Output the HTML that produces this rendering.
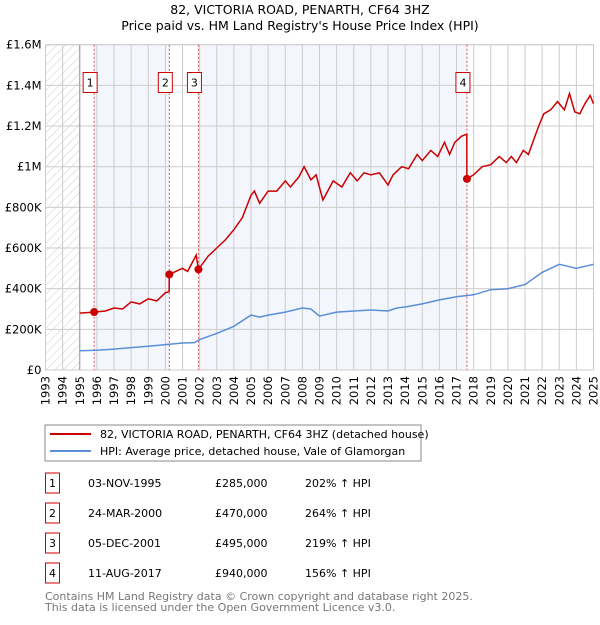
<!DOCTYPE html>
<html><head><meta charset="utf-8"><style>
body{margin:0;background:#fff;font-family:"Liberation Sans","DejaVu Sans",sans-serif}
svg text{font-family:"DejaVu Sans","Liberation Sans",sans-serif}
</style></head><body>
<svg id="c" width="600" height="620" xmlns="http://www.w3.org/2000/svg">
<defs><pattern id="hatch" width="6" height="6" patternUnits="userSpaceOnUse" patternTransform="rotate(45)"><line x1="0" y1="0" x2="0" y2="6" stroke="#ccc" stroke-width="1"/></pattern></defs>
<text x="300" y="14" text-anchor="middle" font-size="12.5">82, VICTORIA ROAD, PENARTH, CF64 3HZ</text>
<text x="300" y="30" text-anchor="middle" font-size="12.5">Price paid vs. HM Land Registry's House Price Index (HPI)</text>
<g id="plot"></g>
<rect x="45" y="425" width="376" height="36" fill="#fff" stroke="#888"/>
<line x1="50" y1="434" x2="91" y2="434" stroke="#cc0000" stroke-width="2"/>
<text x="100" y="438" font-size="11">82, VICTORIA ROAD, PENARTH, CF64 3HZ (detached house)</text>
<line x1="50" y1="451" x2="91" y2="451" stroke="#5b8fd6" stroke-width="2"/>
<text x="100" y="455" font-size="11">HPI: Average price, detached house, Vale of Glamorgan</text>
<g id="tbl"></g>
<text x="45" y="600" font-size="11" fill="#777">Contains HM Land Registry data © Crown copyright and database right 2025.</text>
<text x="45" y="611" font-size="11" fill="#777">This data is licensed under the Open Government Licence v3.0.</text>
</svg>
<script>
const yTicks=[0,200000,400000,600000,800000,1000000,1200000,1400000,1600000];
const yTickLabels=["£0","£200K","£400K","£600K","£800K","£1M","£1.2M","£1.4M","£1.6M"];
const years=[1993,1994,1995,1996,1997,1998,1999,2000,2001,2002,2003,2004,2005,2006,2007,2008,2009,2010,2011,2012,2013,2014,2015,2016,2017,2018,2019,2020,2021,2022,2023,2024,2025];
const saleDates=[1995.84,2000.23,2001.93,2017.61];
const saleLabels=["1","2","3","4"];
const salePrices=[285000,470000,495000,940000];
const saleDateText=["03-NOV-1995","24-MAR-2000","05-DEC-2001","11-AUG-2017"];
const salePriceText=["£285,000","£470,000","£495,000","£940,000"];
const saleHpiText=["202% ↑ HPI","264% ↑ HPI","219% ↑ HPI","156% ↑ HPI"];
const hpiT=[1995,1996,1997,1998,1999,2000,2001,2001.7,2002,2003,2004,2005,2005.5,2006,2007,2008,2008.5,2009,2010,2011,2012,2013,2013.5,2014,2015,2016,2017,2018,2019,2020,2021,2022,2023,2023.5,2024,2025];
const hpiV=[95,97,103,110,117,125,133,135,150,180,215,270,260,270,285,305,300,265,285,290,295,290,305,310,325,345,360,370,395,400,420,480,520,510,500,520];
const priceT=[1995,1995.84,1996.5,1997,1997.5,1998,1998.5,1999,1999.5,2000,2000.22,2000.23,2001,2001.3,2001.8,2001.93,2002.5,2003,2003.5,2004,2004.5,2005,2005.2,2005.5,2006,2006.5,2007,2007.3,2007.8,2008.1,2008.5,2008.8,2009.2,2009.8,2010.3,2010.8,2011.2,2011.6,2012,2012.5,2013,2013.3,2013.8,2014.2,2014.7,2015,2015.5,2015.9,2016.3,2016.6,2016.9,2017.3,2017.6,2017.61,2018,2018.5,2019,2019.5,2019.9,2020.2,2020.5,2020.9,2021.2,2021.8,2022.1,2022.5,2022.9,2023.3,2023.6,2023.9,2024.2,2024.5,2024.8,2025];
const priceV=[280,285,290,305,300,335,325,350,340,380,385,470,500,485,565,495,560,600,640,690,750,860,880,820,880,880,930,900,950,1000,935,960,836,930,900,970,930,970,960,970,910,960,1000,990,1060,1030,1080,1050,1120,1060,1120,1150,1160,940,960,1000,1010,1050,1020,1050,1020,1080,1060,1200,1260,1280,1320,1280,1360,1270,1260,1310,1350,1310];
const X0=45.5,X1=593.5,Y0=370,Y1=44.7;
const xs=t=>X0+(t-1993)*(X1-X0)/32, ys=v=>Y0-v/1600000*(Y0-Y1);
const NS="http://www.w3.org/2000/svg";
function mk(p,tag,a){const e=document.createElementNS(NS,tag);for(const k in a)e.setAttribute(k,a[k]);p.appendChild(e);return e;}
const g=document.getElementById('plot');
let e;
e=mk(g,'rect',{x:X0,y:Y1,width:X1-X0,height:Y0-Y1,fill:'#fff',stroke:'#ccc'});


e=mk(g,'rect',{x:X0,y:Y1,width:xs(1995)-X0,height:Y0-Y1,fill:'url(#hatch)'});


[[0,1],[2,3]].forEach((p,i)=>{e=mk(g,'rect',{x:xs(saleDates[p[0]]),y:Y1,width:xs(saleDates[p[1]])-xs(saleDates[p[0]]),height:Y0-Y1,fill:'#f3f6fd'});

});
years.forEach(y=>{e=mk(g,'line',{x1:xs(y),x2:xs(y),y1:Y1,y2:Y0,stroke:'#ccc'});


e=mk(g,'text',{x:0,y:0,'font-size':11.5,'text-anchor':'end',transform:`translate(${xs(y)+4},${Y0+6}) rotate(-90)`});e.textContent=y;

});
yTicks.forEach((v,i)=>{e=mk(g,'line',{x1:X0,x2:X1,y1:ys(v),y2:ys(v),stroke:'#ccc'});


e=mk(g,'text',{x:X0-4,y:ys(v)+4,'font-size':11.5,'text-anchor':'end'});e.textContent=yTickLabels[i];

});
e=mk(g,'line',{x1:xs(1995),x2:xs(1995),y1:Y1,y2:Y0,stroke:'#999'});


saleDates.forEach((d,i)=>{e=mk(g,'line',{x1:xs(d),x2:xs(d),y1:Y1,y2:Y0,stroke:'#e05050','stroke-dasharray':'2,2','stroke-width':1});


const bx=xs(d)-11;
e=mk(g,'rect',{x:bx,y:72.5,width:14,height:20,fill:'#fff',stroke:'#cc0000'});


e=mk(g,'text',{x:bx+7,y:86.5,'font-size':11,'text-anchor':'middle'});e.textContent=saleLabels[i];

});
const path=(T,V)=>T.map((t,i)=>(i?'L':'M')+xs(t).toFixed(1)+','+ys(V[i]*1000).toFixed(1)).join('');
e=mk(g,'path',{d:path(hpiT,hpiV),fill:'none',stroke:'#5b8fd6','stroke-width':1.5});


e=mk(g,'path',{d:path(priceT,priceV),fill:'none',stroke:'#cc0000','stroke-width':1.5});


saleDates.forEach((d,i)=>{e=mk(g,'circle',{cx:xs(d),cy:ys(salePrices[i]),r:4,fill:'#cc0000'});

});
const tb=document.getElementById('tbl');
saleLabels.forEach((l,i)=>{const y=483+i*30;
e=mk(tb,'rect',{x:45.5,y:y-10,width:14,height:20,fill:'#fff',stroke:'#cc0000'});


e=mk(tb,'text',{x:52.5,y:y+4,'font-size':11,'text-anchor':'middle'});e.textContent=l;


[[88,saleDateText[i],'table-date'],[215,salePriceText[i],'table-price'],[305,saleHpiText[i],'table-hpi']].forEach(c=>{e=mk(tb,'text',{x:c[0],y:y+4,'font-size':11});e.textContent=c[1];

});});
</script>
</body></html>
